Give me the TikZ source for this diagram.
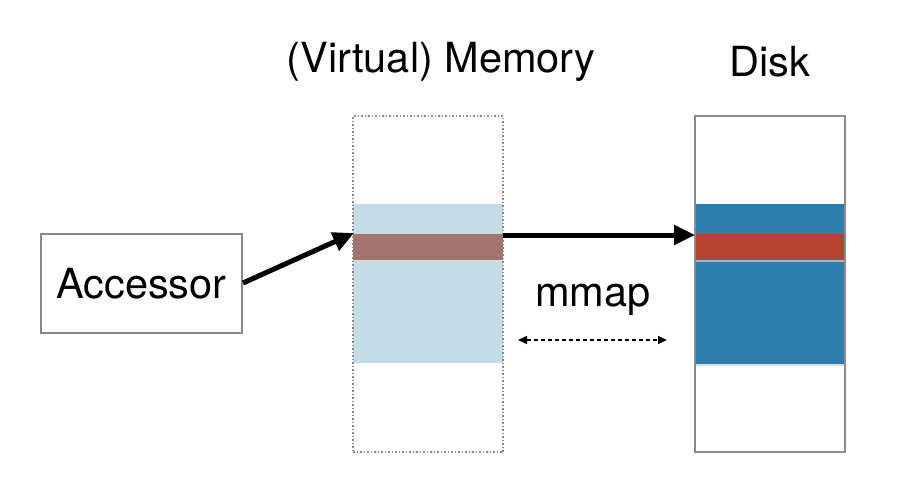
\documentclass[tikz,border=0pt]{standalone}
\usepackage{fontspec}
\setmainfont{TeX Gyre Heros}
\usetikzlibrary{arrows.meta}
\definecolor{boxgray}{RGB}{138,138,140}
\definecolor{lightblue}{RGB}{196,219,232}
\definecolor{brownstripe}{RGB}{163,115,112}
\definecolor{darkblue}{RGB}{46,125,175}
\definecolor{redstripe}{RGB}{181,69,47}
\tikzset{
  outline/.style={draw=boxgray, line width=1.5pt},
  dotbox/.style={draw=boxgray, line width=1.5pt, dotted},
  bigarrow/.style={line width=5pt, -{Triangle[length=21pt,width=19pt]}},
  label/.style={font=\fontsize{41.5}{44}\selectfont, inner sep=0pt},
}
\begin{document}
\begin{tikzpicture}[x=1pt,y=-1pt]
\useasboundingbox (0,0) rectangle (915,491);
% memory
\fill[lightblue] (353,204) rectangle (503,363);
\fill[black!15] (353,236) rectangle (503,262);
\fill[brownstripe] (353,234) rectangle (503,260);
\node[dotbox, minimum width=150pt, minimum height=336pt, inner sep=0pt] (mem) at (428,284) {};
% disk
\fill[black!15] (695,205) rectangle (845,366);
\fill[darkblue] (695,204) rectangle (845,364);
\fill[black!30] (695,236) rectangle (845,262);
\fill[redstripe] (695,234) rectangle (845,260);
\node[outline, minimum width=150pt, minimum height=336pt, inner sep=0pt] (disk) at (770,284) {};
% accessor
\node[outline, minimum width=201pt, minimum height=99pt, inner sep=0pt, label] (acc) at (141.5,283.5) {Accessor};
% titles
\node[label] (memt) at (441,62) {(Virtual) Memory};
\node[label] (diskt) at (770,62) {Disk};
\node[label] (mmap) at (593,300) {mmap};
% coordinates
\coordinate (a1) at (243,283);
\coordinate (a2) at (354,233);
\coordinate (b1) at (503,235);
\coordinate (b2) at (695,235);
\coordinate (m1) at (518,340);
\coordinate (m2) at (667,340);
\draw[bigarrow] (a1) -- (a2);
\draw[bigarrow] (b1) -- (b2);
\draw[line width=1.5pt, dash pattern=on 4pt off 3pt, {Triangle[length=9pt,width=8pt]}-{Triangle[length=9pt,width=8pt]}] (m1) -- (m2);
\end{tikzpicture}
\end{document}
